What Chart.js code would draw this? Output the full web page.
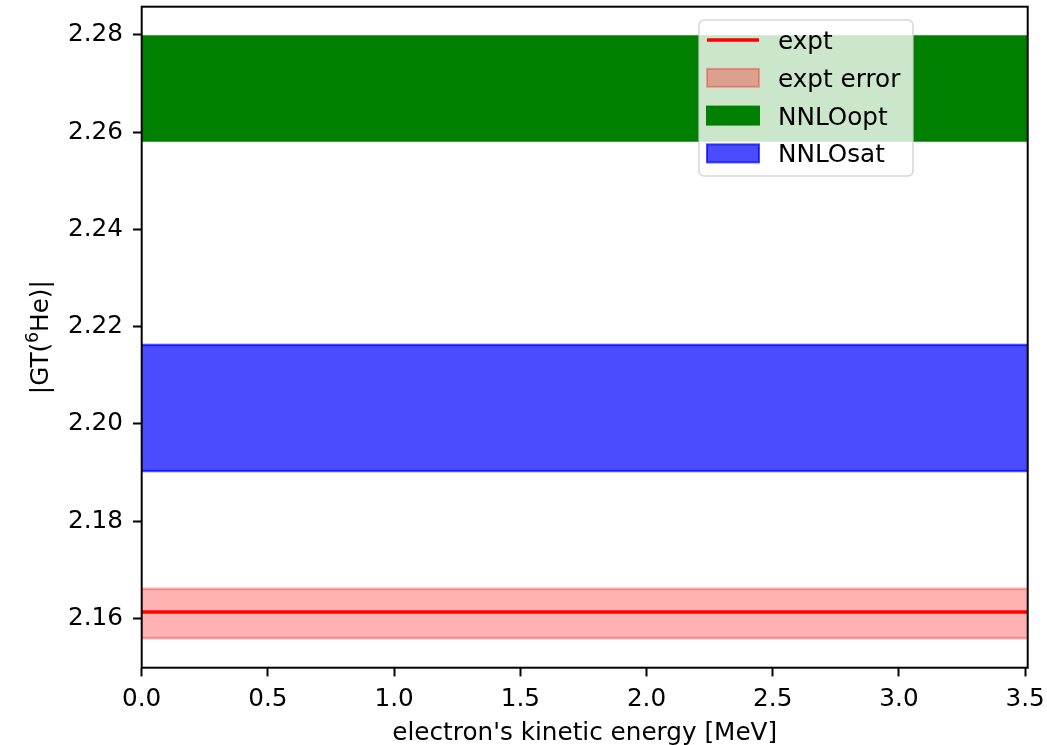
<!DOCTYPE html>
<html>
<head>
<meta charset="utf-8">
<script src="https://cdn.jsdelivr.net/npm/chart.js@4"></script>
<style>
  html, body { margin: 0; padding: 0; background: #fff; }
  #wrap { width: 1047px; height: 745px; position: relative; }
</style>
</head>
<body>
<div id="wrap"><canvas id="c" width="1047" height="745"></canvas></div>
<script>
// ---- data ----
const energyRange = [0, 3.51];                       // electron's kinetic energy [MeV]
const seriesNames = ['expt', 'expt error', 'NNLOopt', 'NNLOsat'];
const exptValue = 2.1613;
const exptErrorBand = [2.1559, 2.1661];              // [low, high]
const nnloOptBand = [2.2583, 2.2797];
const nnloSatBand = [2.1903, 2.2162];
const xTicks = [0.0, 0.5, 1.0, 1.5, 2.0, 2.5, 3.0, 3.5];
const yTicks = [2.16, 2.18, 2.20, 2.22, 2.24, 2.26, 2.28];
const yRange = [2.14984, 2.28582];
const xLabel = "electron's kinetic energy [MeV]";
const yLabelParts = ['|GT(', '6', 'He)|'];           // 6 is a superscript

// ---- styles ----
const FONT = 'DejaVu Sans';
const FS = 24.7;
const colors = {
  expt: 'rgb(255,0,0)',
  exptErr: 'rgba(255,0,0,0.3)',
  opt: 'rgb(0,128,0)',
  sat: 'rgba(0,0,255,0.7)'
};

function flat(y) { return energyRange.map(x => ({ x: x, y: y })); }

function bandPair(band, color, name, idx) {
  return [
    { label: name + ' low', data: flat(band[0]), borderColor: color, backgroundColor: color,
      borderWidth: 2.5, pointRadius: 0, fill: false, order: 10 - idx },
    { label: name, data: flat(band[1]), borderColor: color, backgroundColor: color,
      borderWidth: 2.5, pointRadius: 0, fill: '-1', order: 10 - idx }
  ];
}

const datasets = [
  ...bandPair(exptErrorBand, colors.exptErr, seriesNames[1], 1),
  ...bandPair(nnloOptBand, colors.opt, seriesNames[2], 2),
  ...bandPair(nnloSatBand, colors.sat, seriesNames[3], 3),
  { label: seriesNames[0], data: flat(exptValue), borderColor: colors.expt, borderWidth: 3.7,
    pointRadius: 0, fill: false, order: 0 }
];

const legendItems = [
  { text: seriesNames[0], type: 'line', color: colors.expt },
  { text: seriesNames[1], type: 'patch', color: colors.exptErr },
  { text: seriesNames[2], type: 'patch', color: colors.opt },
  { text: seriesNames[3], type: 'patch', color: colors.sat }
];

const framePlugin = {
  id: 'frameAndLegend',
  afterDatasetsDraw(chart) {
    const ctx = chart.ctx;
    const a = chart.chartArea;
    ctx.save();
    // spines
    ctx.strokeStyle = '#000';
    ctx.lineWidth = 2;
    ctx.strokeRect(a.left, a.top, a.right - a.left, a.bottom - a.top);
    // legend
    const lx = 699, ly = 20, lw = 214, lh = 156, r = 5;
    ctx.beginPath();
    ctx.moveTo(lx + r, ly);
    ctx.arcTo(lx + lw, ly, lx + lw, ly + lh, r);
    ctx.arcTo(lx + lw, ly + lh, lx, ly + lh, r);
    ctx.arcTo(lx, ly + lh, lx, ly, r);
    ctx.arcTo(lx, ly, lx + lw, ly, r);
    ctx.closePath();
    ctx.fillStyle = 'rgba(255,255,255,0.8)';
    ctx.fill();
    ctx.strokeStyle = 'rgba(204,204,204,0.8)';
    ctx.lineWidth = 1.5;
    ctx.stroke();
    ctx.font = FS + 'px "' + FONT + '"';
    ctx.textBaseline = 'alphabetic';
    ctx.textAlign = 'left';
    const hx0 = 707, hx1 = 759, tx = 778;
    legendItems.forEach((it, i) => {
      const base = 49 + i * 37.8;
      const cy = base - 9;
      if (it.type === 'line') {
        ctx.strokeStyle = it.color;
        ctx.lineWidth = 3.7;
        ctx.beginPath();
        ctx.moveTo(hx0, cy);
        ctx.lineTo(hx1, cy);
        ctx.stroke();
      } else {
        ctx.fillStyle = it.color;
        ctx.fillRect(hx0, cy - 9, hx1 - hx0, 18);
        ctx.strokeStyle = it.color;
        ctx.lineWidth = 2;
        ctx.strokeRect(hx0, cy - 9, hx1 - hx0, 18);
      }
      ctx.fillStyle = '#000';
      ctx.fillText(it.text, tx, base);
    });

    // y-axis title with a real superscript
    const big = FS + 'px "' + FONT + '"';
    const small = (FS * 0.7) + 'px "' + FONT + '"';
    ctx.font = big;
    const w0 = ctx.measureText(yLabelParts[0]).width;
    const w2 = ctx.measureText(yLabelParts[2]).width;
    ctx.font = small;
    const w1 = ctx.measureText(yLabelParts[1]).width;
    const total = w0 + w1 + w2;
    ctx.translate(48.3, (a.top + a.bottom) / 2);
    ctx.rotate(-Math.PI / 2);
    ctx.fillStyle = '#000';
    let x = -total / 2;
    ctx.font = big;
    ctx.fillText(yLabelParts[0], x, 0); x += w0;
    ctx.font = small;
    ctx.fillText(yLabelParts[1], x, -FS * 0.4); x += w1;
    ctx.font = big;
    ctx.fillText(yLabelParts[2], x, 0);
    ctx.restore();
  }
};

new Chart(document.getElementById('c'), {
  type: 'line',
  data: { datasets: datasets },
  options: {
    responsive: false,
    animation: false,
    devicePixelRatio: 1,
    layout: { padding: { left: 0, right: 19.3, top: 6.7, bottom: 0 } },
    plugins: { legend: { display: false }, tooltip: { enabled: false }, filler: { propagate: false } },
    scales: {
      x: {
        type: 'linear',
        min: energyRange[0], max: energyRange[1],
        afterBuildTicks: s => { s.ticks = xTicks.map(v => ({ value: v })); },
        afterFit: s => { s.height = 77.3; s.paddingLeft = 0; s.paddingRight = 0; },
        border: { display: false },
        grid: { drawOnChartArea: false, drawTicks: true, tickLength: 8.7, tickWidth: 2, tickColor: '#000' },
        ticks: { color: '#000', font: { family: FONT, size: FS }, padding: 8, maxRotation: 0,
                 callback: v => Number(v).toFixed(1) },
        title: { display: true, text: xLabel, color: '#000', font: { family: FONT, size: FS },
                 padding: { top: 0, bottom: -3 } }
      },
      y: {
        type: 'linear',
        min: yRange[0], max: yRange[1],
        afterBuildTicks: s => { s.ticks = yTicks.map(v => ({ value: v })); },
        afterFit: s => { s.width = 141.7; s.paddingTop = 0; s.paddingBottom = 0; },
        border: { display: false },
        grid: { drawOnChartArea: false, drawTicks: true, tickLength: 8.7, tickWidth: 2, tickColor: '#000' },
        ticks: { color: '#000', font: { family: FONT, size: FS }, padding: 10,
                 callback: v => Number(v).toFixed(2) },
        title: { display: false }
      }
    }
  },
  plugins: [framePlugin]
});
</script>
</body>
</html>
